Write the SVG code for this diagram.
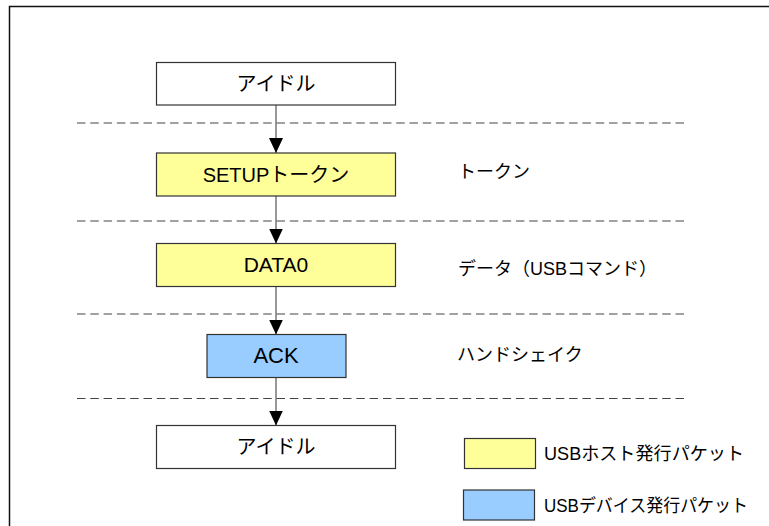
<svg xmlns="http://www.w3.org/2000/svg" width="769" height="526" viewBox="0 0 769 526">
<defs>
<style>
.box{stroke:#333;stroke-width:1.2}
.idle{fill:#fff}
.host{fill:#ffff99}
.dev{fill:#99ccff}
.nt{font-family:"Liberation Sans","Noto Sans CJK JP",sans-serif;font-size:20px;fill:#000;text-anchor:middle}
.lb{font-family:"Liberation Sans","Noto Sans CJK JP",sans-serif;font-size:18px;fill:#000}
.sep{stroke:#444;stroke-width:1.2;stroke-dasharray:8.5 4.8;fill:none}
.conn{stroke:#555;stroke-width:1.2;fill:none;marker-end:url(#ah)}
</style>
<marker id="ah" markerWidth="15" markerHeight="14" refX="15" refY="7" orient="auto" markerUnits="userSpaceOnUse" viewBox="0 0 15 14">
<path d="M0,0 L15,7 L0,14 Z" fill="#000"/>
</marker>
</defs>
<rect width="769" height="526" fill="#fff"/>
<path d="M9.5,526 V6.5 H769" fill="none" stroke="#111" stroke-width="1.5"/>
<g id="separators">
<line class="sep" x1="77" y1="123" x2="684" y2="123"/>
<line class="sep" x1="77" y1="221" x2="684" y2="221"/>
<line class="sep" x1="77" y1="314" x2="684" y2="314"/>
<line class="sep" x1="77" y1="398.5" x2="684" y2="398.5"/>
</g>
<g id="connectors">
<line class="conn" x1="276" y1="105" x2="276" y2="153"/>
<line class="conn" x1="276" y1="196" x2="276" y2="243.5"/>
<line class="conn" x1="276" y1="287" x2="276" y2="334.5"/>
<line class="conn" x1="276" y1="377.5" x2="276" y2="425.5"/>
</g>
<g id="idle1">
<rect class="box idle" x="156.5" y="62.5" width="239" height="42.5"/>
<text class="nt" x="276" y="91">アイドル</text>
</g>
<g id="setup">
<rect class="box host" x="156.5" y="153" width="239" height="43"/>
<text class="nt" x="276" y="182">SETUPトークン</text>
</g>
<g id="data0">
<rect class="box host" x="156.5" y="243.5" width="239" height="43"/>
<text class="nt" x="276" y="272" style="font-size:21px">DATA0</text>
</g>
<g id="ack">
<rect class="box dev" x="207" y="334.5" width="139" height="43"/>
<text class="nt" x="276" y="363" style="font-size:22px">ACK</text>
</g>
<g id="idle2">
<rect class="box idle" x="156.5" y="425.5" width="239" height="43"/>
<text class="nt" x="276" y="454">アイドル</text>
</g>
<g id="phase-labels">
<text class="lb" x="458" y="178">トークン</text>
<text class="lb" x="458" y="275">データ（USBコマンド）</text>
<text class="lb" x="457" y="361">ハンドシェイク</text>
</g>
<g id="legend-host">
<rect class="box host" x="464.5" y="438.5" width="71" height="30"/>
<text class="lb" x="544" y="460" textLength="200" lengthAdjust="spacingAndGlyphs">USBホスト発行パケット</text>
</g>
<g id="legend-device">
<rect class="box dev" x="463.5" y="490" width="71" height="30"/>
<text class="lb" x="544" y="512" textLength="204" lengthAdjust="spacingAndGlyphs">USBデバイス発行パケット</text>
</g>
</svg>
